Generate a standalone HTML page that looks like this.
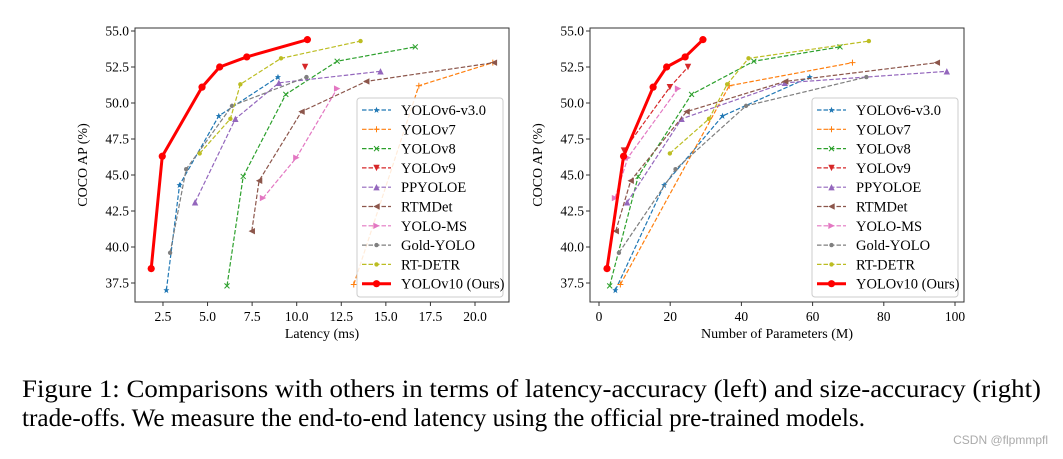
<!DOCTYPE html>
<html><head><meta charset="utf-8">
<style>
body{margin:0;background:#fff;}
svg{display:block;font-family:"Liberation Serif",serif;}
</style></head>
<body>
<svg id="fig" width="1063" height="459" viewBox="0 0 1063 459">
<g id="left"></g>
<g id="right"></g>
<text x="22" y="397" font-size="25" textLength="1019" lengthAdjust="spacingAndGlyphs">Figure 1: Comparisons with others in terms of latency-accuracy (left) and size-accuracy (right)</text>
<text x="22" y="426" font-size="25" textLength="843" lengthAdjust="spacingAndGlyphs">trade-offs. We measure the end-to-end latency using the official pre-trained models.</text>
<text x="1048" y="444" font-size="12" fill="#aaa" text-anchor="end" font-family="Liberation Sans, Noto Sans CJK SC, sans-serif">CSDN @flpmmpfl</text>
</svg>
<script>
const seriesNames = ["YOLOv6-v3.0","YOLOv7","YOLOv8","YOLOv9","PPYOLOE","RTMDet","YOLO-MS","Gold-YOLO","RT-DETR","YOLOv10 (Ours)"];
const apValues = [
 [37.0,44.3,49.1,51.8],
 [37.4,51.2,52.8],
 [37.3,44.9,50.6,52.9,53.9],
 [46.7,51.1,52.5],
 [43.1,48.9,51.4,52.2],
 [41.1,44.6,49.4,51.5,52.8],
 [43.4,46.2,51.0],
 [39.6,45.4,49.8,51.8],
 [46.5,48.9,51.3,53.1,54.3],
 [38.5,46.3,51.1,52.5,53.2,54.4]
];
const latencyValues = [
 [2.69,3.43,5.63,8.95],
 [13.2,16.85,21.0],
 [6.09,7.0,9.39,12.27,16.65],
 [null,null,10.47],
 [4.3,6.56,9.0,14.7],
 [7.48,7.89,10.27,13.9,21.06],
 [8.11,9.98,12.27],
 [2.9,3.8,6.37,10.55],
 [4.56,6.28,6.84,9.12,13.58],
 [1.84,2.46,4.69,5.68,7.2,10.6]
];
const paramValues = [
 [4.6,18.3,34.7,59.2],
 [6.0,36.6,71.2],
 [3.0,11.0,26.0,43.5,67.7],
 [7.0,19.9,25.0],
 [7.9,23.2,52.2,97.7],
 [4.7,8.9,24.6,52.3,94.9],
 [4.5,8.1,22.2],
 [5.6,21.5,41.3,75.1],
 [19.9,30.9,36.0,42.0,75.8],
 [2.25,6.9,15.2,19.0,24.2,29.2]
];
const yTicks = [37.5,40.0,42.5,45.0,47.5,50.0,52.5,55.0];
const latencyTicks = [2.5,5.0,7.5,10.0,12.5,15.0,17.5,20.0];
const paramTicks = [0,20,40,60,80,100];

const colors = ["#1f77b4","#ff7f0e","#2ca02c","#d62728","#9467bd","#8c564b","#e377c2","#7f7f7f","#bcbd22","#ff0000"];
const markers = ["star","plus","x","tdown","tup","tleft","tright","dot","dot","circle"];
const NS = "http://www.w3.org/2000/svg";
function mk(tag, attrs, parent){const e=document.createElementNS(NS,tag);for(const k in attrs)e.setAttribute(k,attrs[k]);parent.appendChild(e);return e;}
function yScale(v){return 31+(55-v)/17.5*252;}

function marker(g,type,x,y,c){
  let e;
  if(type==="circle"){e=mk("circle",{cx:x,cy:y,r:3.6,fill:c},g);}
  else if(type==="dot"){e=mk("circle",{cx:x,cy:y,r:2.2,fill:c},g);}
  else if(type==="plus"){e=mk("path",{d:`M${x-3} ${y}H${x+3}M${x} ${y-3}V${y+3}`,stroke:c,"stroke-width":1,fill:"none"},g);}
  else if(type==="x"){e=mk("path",{d:`M${x-2.5} ${y-2.5}L${x+2.5} ${y+2.5}M${x-2.5} ${y+2.5}L${x+2.5} ${y-2.5}`,stroke:c,"stroke-width":1,fill:"none"},g);}
  else if(type==="star"){e=mk("path",{d:`M${x} ${y-3.2}L${x+0.9} ${y-0.9}L${x+3} ${y-0.9}L${x+1.3} ${y+0.6}L${x+2} ${y+3}L${x} ${y+1.5}L${x-2} ${y+3}L${x-1.3} ${y+0.6}L${x-3} ${y-0.9}L${x-0.9} ${y-0.9}Z`,fill:c},g);}
  else {
    const s=3.2;let d;
    if(type==="tdown")d=`M${x-s} ${y-s}L${x+s} ${y-s}L${x} ${y+s}Z`;
    if(type==="tup")d=`M${x-s} ${y+s}L${x+s} ${y+s}L${x} ${y-s}Z`;
    if(type==="tleft")d=`M${x+s} ${y-s}L${x+s} ${y+s}L${x-s} ${y}Z`;
    if(type==="tright")d=`M${x-s} ${y-s}L${x-s} ${y+s}L${x+s} ${y}Z`;
    e=mk("path",{d:d,fill:c},g);
  }
  
  
}

function drawChart(g, fx0, fx1, xScale, xVals, xTicks, xLabel, ylabX, legX, tickFmt){
  const fr=mk("rect",{x:fx0,y:28,width:fx1-fx0,height:274,fill:"none",stroke:"#333","stroke-width":1},g);
  
  
  yTicks.forEach(t=>{
    const y=yScale(t);
    mk("line",{x1:fx0-4,x2:fx0,y1:y,y2:y,stroke:"#333"},g);
    const tx=mk("text",{x:fx0-6,y:y+4.5,"font-size":13.5,"text-anchor":"end"},g);
    tx.textContent=t.toFixed(1);
    
    
  });
  xTicks.forEach(t=>{
    const x=xScale(t);
    mk("line",{x1:x,x2:x,y1:302,y2:306,stroke:"#333"},g);
    const tx=mk("text",{x:x,y:321,"font-size":13.5,"text-anchor":"middle"},g);
    tx.textContent=tickFmt(t);
    
    
  });
  const xl=mk("text",{x:(fx0+fx1)/2,y:338,"font-size":14,"text-anchor":"middle"},g);
  xl.textContent=xLabel;
  
  
  const yl=mk("text",{x:ylabX,y:165,"font-size":14,"text-anchor":"middle",transform:`rotate(-90 ${ylabX} 165)`},g);
  yl.textContent="COCO AP (%)";
  
  
  seriesNames.forEach((name,i)=>{
    const sg=mk("g",{},g);
    
    
    const pts=[];
    apValues[i].forEach((v,j)=>{const xv=xVals[i][j];if(xv!==null&&xv!==undefined)pts.push([xScale(xv),yScale(v)]);});
    const own=i===9;
    if(pts.length>1){
      const p=mk("polyline",{points:pts.map(p=>p.join(",")).join(" "),fill:"none",stroke:colors[i],"stroke-width":own?3:1.2,"stroke-dasharray":own?"none":"4.5 2","stroke-linejoin":"round"},sg);
      
      
    }
    pts.forEach(p=>marker(sg,markers[i],p[0],p[1],colors[i]));
  });
  const lg=mk("g",{},g);
  
  
  mk("rect",{x:legX,y:98,width:146,height:199,rx:3,fill:"#fff","fill-opacity":0.85,stroke:"#ccc"},lg);
  seriesNames.forEach((name,i)=>{
    const y=110+i*19.3;
    const own=i===9;
    const eg=mk("g",{},lg);
    
    
    mk("line",{x1:legX+5,x2:legX+34,y1:y,y2:y,stroke:colors[i],"stroke-width":own?3:1.2,"stroke-dasharray":own?"none":"4.5 2"},eg);
    marker(eg,markers[i],legX+19.5,y,colors[i]);
    const t=mk("text",{x:legX+44,y:y+5,"font-size":14.5},eg);
    t.textContent=name;
  });
}
const L=document.getElementById('left'), R=document.getElementById('right');
drawChart(L,135,509,v=>118.4+v*17.83,latencyValues,latencyTicks,"Latency (ms)",87,357,t=>t.toFixed(1));
drawChart(R,590,964,v=>599+v*3.56,paramValues,paramTicks,"Number of Parameters (M)",542,812,t=>String(t));
</script>
</body></html>
